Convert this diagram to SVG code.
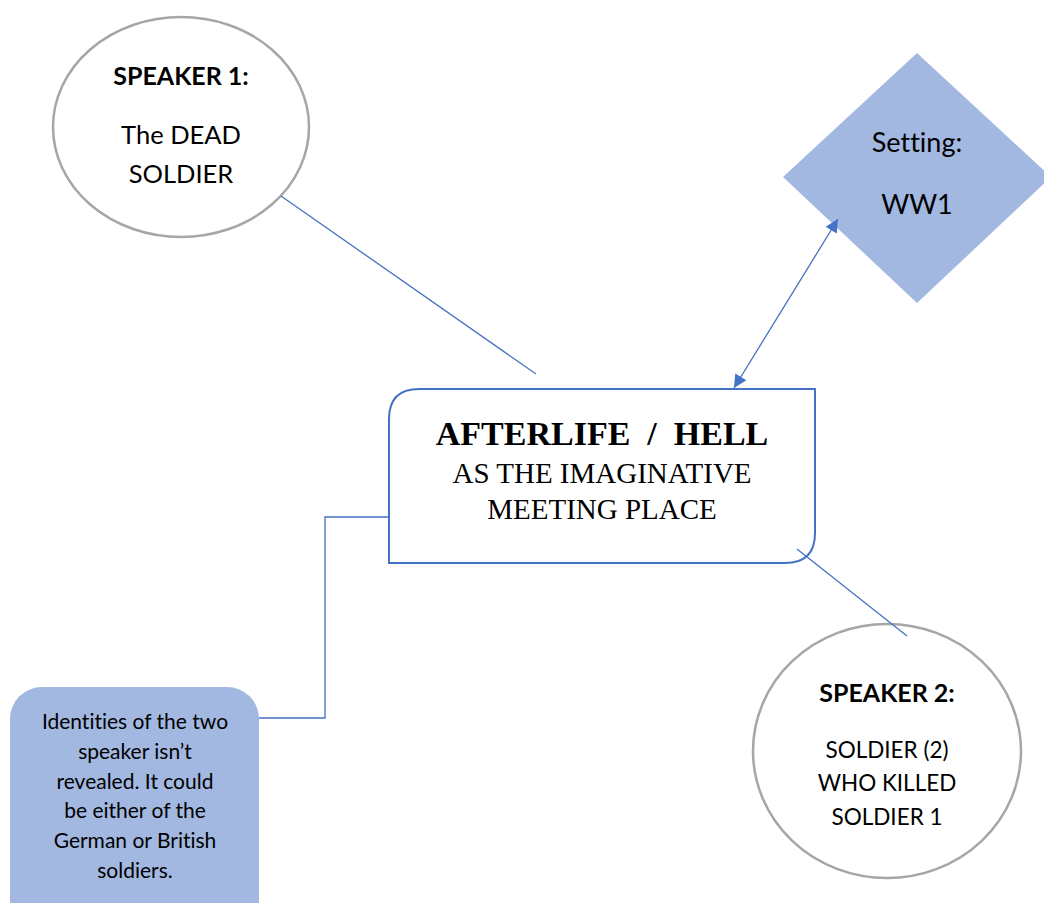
<svg xmlns="http://www.w3.org/2000/svg" width="1044" height="903" viewBox="0 0 1044 903">
<style>
.circ{fill:#fff;stroke:#a6a6a6;stroke-width:2.5}
.blue{fill:#a2b8e1}
.conn{fill:none;stroke:#4472c4;stroke-width:1.3}
.s{font-family:Lato,"Liberation Sans",sans-serif;fill:#000;text-anchor:middle;font-variant-ligatures:none}
.b{font-weight:bold}
.t{font-family:"Liberation Serif",serif;fill:#000;text-anchor:middle;white-space:pre}
</style>
<defs>
<marker id="ah" viewBox="0 0 10 10" refX="10" refY="5" markerWidth="15" markerHeight="13" orient="auto-start-reverse" markerUnits="userSpaceOnUse">
<path d="M0,0 L10,5 L0,10 z" fill="#4472c4"/>
</marker>
</defs>
<rect width="1044" height="903" fill="#fff"/>
<g id="speaker1">
<ellipse class="circ" cx="181" cy="127" rx="128" ry="110"/>
<text class="s b" x="181" y="85" font-size="25">SPEAKER 1:</text>
<text class="s" x="181" y="144" font-size="25.5">The DEAD</text>
<text class="s" x="181" y="183" font-size="25.5">SOLDIER</text>
</g>
<g id="setting">
<polygon class="blue" points="917,53 1051,177 917,303 783,177"/>
<text class="s" x="917" y="152" font-size="27">Setting:</text>
<text class="s" x="917" y="214" font-size="27">WW1</text>
</g>
<g id="main">
<path d="M389,419 Q389,389 419,389 L815,389 L815,533 Q815,563 785,563 L389,563 Z" fill="#fff" stroke="#4472c4" stroke-width="2"/>
<text class="t b" x="602" y="445" font-size="34" xml:space="preserve">AFTERLIFE  /  HELL</text>
<text class="t" x="602" y="483" font-size="29">AS THE IMAGINATIVE</text>
<text class="t" x="602" y="519" font-size="29">MEETING PLACE</text>
</g>
<g id="speaker2">
<ellipse class="circ" cx="887" cy="751" rx="134" ry="127"/>
<text class="s b" x="887" y="702" font-size="25">SPEAKER 2:</text>
<text class="s" x="887" y="758" font-size="22.5">SOLDIER (2)</text>
<text class="s" x="887" y="791" font-size="22.5">WHO KILLED</text>
<text class="s" x="887" y="825" font-size="22.5">SOLDIER 1</text>
</g>
<g id="note">
<rect class="blue" x="10" y="687" width="249" height="250" rx="32" ry="32"/>
<text class="s" x="135" y="729" font-size="21">Identities of the two</text>
<text class="s" x="135" y="759" font-size="21">speaker isn’t</text>
<text class="s" x="135" y="789" font-size="21">revealed. It could</text>
<text class="s" x="135" y="818" font-size="21">be either of the</text>
<text class="s" x="135" y="848" font-size="21">German or British</text>
<text class="s" x="135" y="878" font-size="21">soldiers.</text>
</g>
<g id="connectors">
<line class="conn" x1="281" y1="196" x2="536" y2="374"/>
<line class="conn" x1="734" y1="388" x2="838" y2="219" marker-start="url(#ah)" marker-end="url(#ah)" stroke-width="1.5"/>
<line class="conn" x1="797" y1="549" x2="907" y2="636"/>
<polyline class="conn" points="389,517 325,517 325,718 259,718"/>
</g>
</svg>
